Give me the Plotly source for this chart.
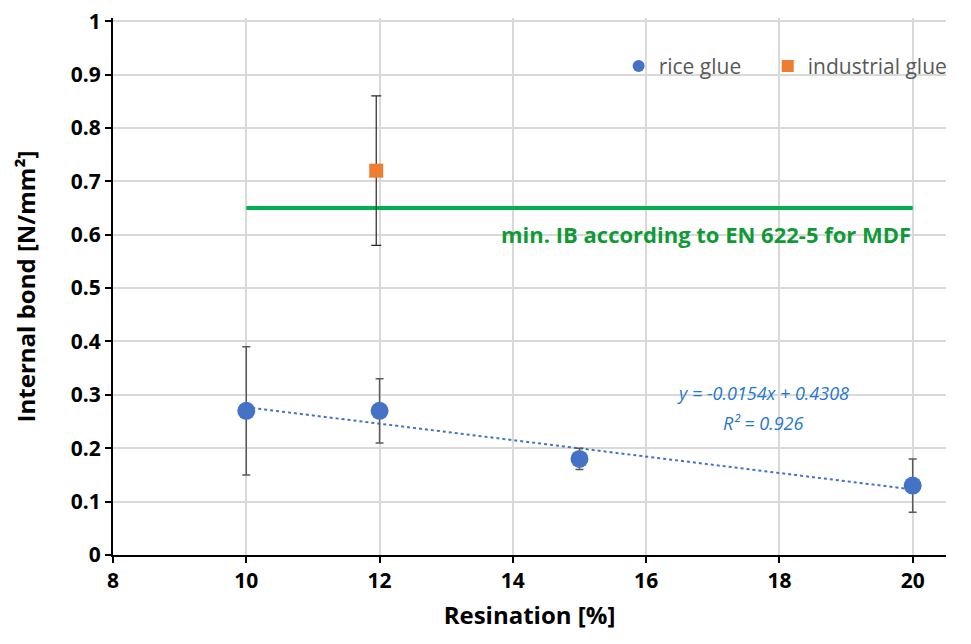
import plotly.graph_objects as go

# data
rice_x = [10, 12, 15, 20]
rice_y = [0.27, 0.27, 0.18, 0.13]
rice_err = [0.12, 0.06, 0.02, 0.05]
ind_x = [11.95]
ind_y = [0.72]
ind_err = [0.14]
min_ib_x = [10, 20]
min_ib_y = [0.65, 0.65]
trend_slope = -0.0154
trend_intercept = 0.4308
trend_x = [10, 20]
x_ticks = [8, 10, 12, 14, 16, 18, 20]
y_ticks = [0, 0.1, 0.2, 0.3, 0.4, 0.5, 0.6, 0.7, 0.8, 0.9, 1]
y_ticklabels = ["0", "0.1", "0.2", "0.3", "0.4", "0.5", "0.6", "0.7", "0.8", "0.9", "1"]

BLUE = "#4472C4"
ORANGE = "#ED7D31"
GREEN = "#00B050"
GREEN_TEXT = "#109A36"
EQ_BLUE = "#1F77D0"
FONT = "Open Sans"

fig = go.Figure()

fig.add_trace(go.Scatter(
    x=min_ib_x, y=min_ib_y, mode="lines",
    line=dict(color=GREEN, width=4), showlegend=False, hoverinfo="skip"))

fig.add_trace(go.Scatter(
    x=trend_x, y=[trend_slope * v + trend_intercept for v in trend_x], mode="lines",
    line=dict(color=BLUE, width=2, dash="dot"), showlegend=False, hoverinfo="skip"))

fig.add_trace(go.Scatter(
    x=rice_x, y=rice_y, mode="markers", name="rice glue", legend="legend",
    marker=dict(color=BLUE, size=18, symbol="circle"),
    error_y=dict(type="data", array=rice_err, color="#595959", thickness=1.5, width=4)))

fig.add_trace(go.Scatter(
    x=ind_x, y=ind_y, mode="markers", name="industrial glue", legend="legend2",
    marker=dict(color=ORANGE, size=14, symbol="square"),
    error_y=dict(type="data", array=ind_err, color="#262626", thickness=1.2, width=5)))

fig.add_annotation(x=20, y=0.601, xref="x", yref="y", xanchor="right", yanchor="middle",
                   text="<b>min. IB according to EN 622-5 for MDF</b>", showarrow=False,
                   font=dict(family=FONT, size=22, color=GREEN_TEXT))

fig.add_annotation(x=17.76, y=0.304, xref="x", yref="y", xanchor="center", yanchor="middle",
                   text="<i>y = -0.0154x + 0.4308</i>", showarrow=False,
                   font=dict(family=FONT, size=18, color=EQ_BLUE))
fig.add_annotation(x=17.76, y=0.248, xref="x", yref="y", xanchor="center", yanchor="middle",
                   text="<i>R² = 0.926</i>", showarrow=False,
                   font=dict(family=FONT, size=18, color=EQ_BLUE))

legend_common = dict(orientation="h", y=0.91, xanchor="left", yanchor="middle",
                     font=dict(family=FONT, size=21, color="#595959"),
                     bgcolor="rgba(0,0,0,0)", itemsizing="constant")

fig.update_layout(
    width=971, height=644,
    margin=dict(l=105, r=33, t=10, b=97, autoexpand=False),
    paper_bgcolor="white", plot_bgcolor="white",
    font=dict(family=FONT, color="#000000"),
    legend=dict(x=0.607, **legend_common),
    legend2=dict(x=0.786, **legend_common),
    xaxis=dict(range=[8, 20.5], tickvals=x_ticks, ticktext=[str(v) for v in x_ticks],
               showgrid=True, gridcolor="#D9D9D9", gridwidth=1.5,
               showline=True, linecolor="black", linewidth=2,
               ticks="outside", ticklen=6, tickwidth=2, tickcolor="black",
               tickfont=dict(family=FONT, size=21, color="black", weight="bold"),
               ticklabeloverflow="allow",
               title=dict(text="<b>Resination [%]</b>", font=dict(family=FONT, size=24, color="black"),
                          standoff=14),
               zeroline=False, automargin=False),
    yaxis=dict(range=[0, 1.006], tickvals=y_ticks, ticktext=y_ticklabels,
               showgrid=True, gridcolor="#D9D9D9", gridwidth=1.5,
               showline=True, linecolor="black", linewidth=2,
               ticks="outside", ticklen=6, tickwidth=2, tickcolor="black",
               tickfont=dict(family=FONT, size=21, color="black", weight="bold"),
               ticklabeloverflow="allow",
               title=dict(text="<b>Internal bond [N/mm²]</b>", font=dict(family=FONT, size=24, color="black"),
                          standoff=28),
               zeroline=False, automargin=False),
)

fig.write_html("out.html")
